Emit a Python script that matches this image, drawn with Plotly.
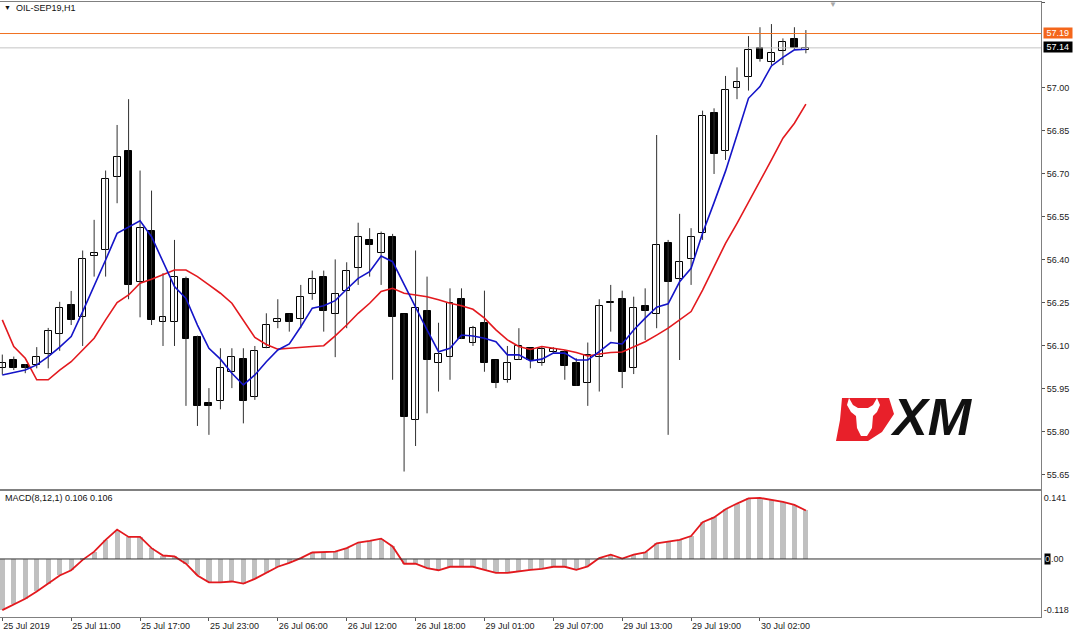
import plotly.graph_objects as go

W, H = 1080, 631

# ---------------- data ----------------
bars = list(range(71))
opens = [56.022, 56.051, 56.033, 56.033, 56.071, 56.141, 56.243, 56.200, 56.414, 56.435,
         56.691, 56.781, 56.322, 56.501, 56.183, 56.183, 56.333, 56.133, 55.902, 55.909,
         56.010, 56.054, 55.921, 56.092, 56.183, 56.212, 56.194, 56.281, 56.342, 56.212,
         56.293, 56.371, 56.470, 56.423, 56.479, 56.212, 55.842, 56.222, 56.042, 56.063,
         56.263, 56.112, 56.181, 56.051, 55.982, 56.051, 56.092, 56.040, 56.080, 56.080,
         56.042, 55.972, 56.063, 56.249, 56.263, 56.022, 56.241, 56.212, 56.460, 56.333,
         56.402, 56.493, 56.912, 56.780, 57.001, 57.039, 57.141, 57.090, 57.130, 57.171,
         57.133]
highs = [56.070, 56.063, 56.037, 56.096, 56.163, 56.254, 56.292, 56.433, 56.540, 56.712,
         56.871, 56.961, 56.712, 56.642, 56.354, 56.470, 56.342, 56.136, 55.953, 56.092,
         56.092, 56.092, 56.100, 56.214, 56.263, 56.212, 56.313, 56.363, 56.363, 56.402,
         56.392, 56.530, 56.511, 56.499, 56.491, 56.212, 56.433, 56.342, 56.181, 56.301,
         56.301, 56.170, 56.293, 56.051, 56.100, 56.162, 56.092, 56.098, 56.096, 56.086,
         56.057, 56.112, 56.263, 56.313, 56.293, 56.272, 56.301, 56.836, 56.470, 56.561,
         56.511, 56.921, 56.929, 57.042, 57.072, 57.181, 57.212, 57.223, 57.173, 57.212,
         57.202]
lows = [56.000, 56.016, 56.005, 56.022, 56.022, 56.083, 56.173, 56.100, 56.342, 56.342,
        56.598, 56.263, 56.200, 56.173, 56.100, 56.100, 55.891, 55.821, 55.790, 55.879,
        55.953, 55.830, 55.912, 56.092, 56.162, 56.150, 56.162, 56.261, 56.150, 56.061,
        56.162, 56.313, 56.342, 56.313, 55.982, 55.662, 55.751, 55.865, 55.941, 55.982,
        56.124, 56.100, 56.010, 55.953, 55.972, 56.051, 56.022, 56.031, 56.075, 55.982,
        55.961, 55.891, 55.941, 56.150, 55.953, 56.002, 56.121, 56.162, 55.790, 56.051,
        56.313, 56.470, 56.700, 56.749, 56.961, 56.991, 57.092, 57.080, 57.080, 57.135,
        57.121]
closes = [56.042, 56.022, 56.022, 56.063, 56.153, 56.232, 56.191, 56.402, 56.423, 56.682,
          56.760, 56.313, 56.511, 56.191, 56.202, 56.342, 56.124, 55.891, 55.891, 56.022,
          56.063, 55.909, 56.083, 56.173, 56.193, 56.183, 56.272, 56.333, 56.223, 56.281,
          56.363, 56.479, 56.452, 56.491, 56.202, 55.851, 56.232, 56.051, 56.072, 56.251,
          56.124, 56.162, 56.042, 55.972, 56.042, 56.100, 56.051, 56.090, 56.090, 56.031,
          55.961, 56.069, 56.241, 56.255, 56.010, 56.232, 56.222, 56.452, 56.322, 56.392,
          56.479, 56.902, 56.770, 56.993, 57.022, 57.133, 57.100, 57.121, 57.161, 57.141,
          57.141]
ma_fast = [55.999, 56.007, 56.016, 56.034, 56.063, 56.096, 56.133, 56.220, 56.307, 56.400,
           56.493, 56.516, 56.537, 56.481, 56.394, 56.307, 56.266, 56.173, 56.092, 56.054,
           56.005, 55.964, 55.999, 56.045, 56.086, 56.107, 56.167, 56.232, 56.240, 56.258,
           56.298, 56.336, 56.359, 56.414, 56.394, 56.313, 56.235, 56.156, 56.080, 56.092,
           56.138, 56.135, 56.127, 56.115, 56.069, 56.069, 56.048, 56.054, 56.075, 56.075,
           56.051, 56.051, 56.080, 56.112, 56.107, 56.156, 56.197, 56.235, 56.247, 56.324,
           56.371, 56.493, 56.600, 56.710, 56.836, 56.964, 57.005, 57.077, 57.107, 57.133,
           57.135]
ma_slow = [56.191, 56.098, 56.057, 55.982, 55.982, 56.016, 56.045, 56.086, 56.127, 56.191,
           56.251, 56.278, 56.319, 56.333, 56.348, 56.365, 56.365, 56.342, 56.313, 56.284,
           56.249, 56.191, 56.130, 56.105, 56.089, 56.092, 56.094, 56.098, 56.101, 56.135,
           56.173, 56.214, 56.249, 56.290, 56.301, 56.284, 56.278, 56.272, 56.261, 56.249,
           56.240, 56.228, 56.197, 56.156, 56.121, 56.098, 56.088, 56.098, 56.092, 56.086,
           56.077, 56.065, 56.072, 56.077, 56.079, 56.098, 56.115, 56.138, 56.162, 56.191,
           56.220, 56.295, 56.377, 56.458, 56.528, 56.600, 56.673, 56.749, 56.825, 56.877,
           56.944]
macd = [-0.118, -0.105, -0.092, -0.075, -0.057, -0.038, -0.026, -0.002, 0.017, 0.044,
        0.068, 0.051, 0.051, 0.025, 0.008, 0.006, -0.011, -0.038, -0.054, -0.054,
        -0.052, -0.057, -0.046, -0.032, -0.018, -0.009, 0.002, 0.015, 0.016, 0.017,
        0.025, 0.038, 0.042, 0.047, 0.029, -0.011, -0.011, -0.021, -0.026, -0.018,
        -0.018, -0.018, -0.025, -0.032, -0.032, -0.028, -0.025, -0.023, -0.018, -0.018,
        -0.025, -0.017, 0.002, 0.010, 0.001, 0.010, 0.015, 0.036, 0.040, 0.044,
        0.053, 0.085, 0.096, 0.115, 0.128, 0.140, 0.141, 0.137, 0.132, 0.125, 0.112]

tick_bars = [0, 6, 12, 18, 24, 30, 36, 42, 48, 54, 60, 66]
tick_labels = ["25 Jul 2019", "25 Jul 11:00", "25 Jul 17:00", "25 Jul 23:00",
               "26 Jul 06:00", "26 Jul 12:00", "26 Jul 18:00", "29 Jul 01:00",
               "29 Jul 07:00", "29 Jul 13:00", "29 Jul 19:00", "30 Jul 02:00"]
price_ticks = [55.65, 55.80, 55.95, 56.10, 56.25, 56.40, 56.55, 56.70, 56.85, 57.00, 57.30]
price_tick_text = ["55.65", "55.80", "55.95", "56.10", "56.25", "56.40", "56.55",
                   "56.70", "56.85", "57.00", "57.30"]
ask_price = 57.19
bid_price = 57.14
macd_ticks = [0.141, -0.118]
macd_tick_text = ["0.141", "-0.118"]

# ---------------- helpers ----------------
def px(x):
    return x / W

def py(y):
    return 1 - y / H

FONT = "Liberation Sans"
XR = 1041 / W

fig = go.Figure()

# wicks
wx, wy = [], []
for i, lo, hi in zip(bars, lows, highs):
    wx += [i, i, None]
    wy += [lo, hi, None]
fig.add_trace(go.Scatter(x=wx, y=wy, mode="lines", line=dict(color="#303030", width=1),
                         hoverinfo="skip", showlegend=False, xaxis="x", yaxis="y"))

# bodies
MINB = 0.004
for up in (True, False):
    xs, base, hgt = [], [], []
    for i, o, c in zip(bars, opens, closes):
        if (c >= o) == up:
            xs.append(i)
            lo = min(o, c)
            h = abs(c - o)
            if h < MINB:
                lo = (o + c) / 2 - MINB / 2
                h = MINB
            base.append(lo)
            hgt.append(h)
    fig.add_trace(go.Bar(x=xs, y=hgt, base=base, width=0.6,
                         marker=dict(color="white" if up else "black",
                                     line=dict(color="black", width=1)),
                         showlegend=False, xaxis="x", yaxis="y"))

# moving averages
fig.add_trace(go.Scatter(x=bars, y=ma_slow, mode="lines", line=dict(color="#E3191E", width=1.6),
                         showlegend=False, xaxis="x", yaxis="y"))
fig.add_trace(go.Scatter(x=bars, y=ma_fast, mode="lines", line=dict(color="#1414C8", width=1.6),
                         showlegend=False, xaxis="x", yaxis="y"))

# MACD
fig.add_trace(go.Bar(x=bars, y=macd, width=0.45, marker=dict(color="#C0C0C0", line=dict(width=0)),
                     showlegend=False, xaxis="x2", yaxis="y2"))
fig.add_trace(go.Scatter(x=bars, y=macd, mode="lines", line=dict(color="#E3191E", width=1.8),
                         showlegend=False, xaxis="x2", yaxis="y2"))

xrange = [-0.2, 90.48]
axcol = "#808080"
tickfont = dict(family=FONT, size=9, color="#222")

fig.update_layout(
    width=W, height=H, margin=dict(l=0, r=0, t=0, b=0),
    paper_bgcolor="white", plot_bgcolor="white",
    barmode="overlay", bargap=0,
    showlegend=False,
    xaxis=dict(domain=[0, XR], range=xrange, showgrid=False, zeroline=False,
               showticklabels=False, ticks="", showline=True, mirror=True,
               linecolor=axcol, linewidth=1, anchor="y"),
    yaxis=dict(domain=[py(489), py(2)], range=[55.601, 57.300], side="right",
               showgrid=False, zeroline=False, tickvals=price_ticks, ticktext=price_tick_text,
               ticks="outside", ticklen=3, tickcolor="#555", tickfont=tickfont,
               showline=True, mirror=True, linecolor=axcol, linewidth=1, anchor="x"),
    xaxis2=dict(domain=[0, XR], range=xrange, matches="x", showgrid=False, zeroline=False,
                tickvals=tick_bars, ticktext=tick_labels, ticks="outside", ticklen=3,
                tickcolor="#555", tickfont=tickfont, ticklabelposition="outside right",
                showline=True, mirror=True, linecolor=axcol, linewidth=1, anchor="y2"),
    yaxis2=dict(domain=[py(617), py(491)], range=[-0.134, 0.157], side="right",
                showgrid=False, zeroline=False, tickvals=macd_ticks, ticktext=macd_tick_text,
                ticks="", tickfont=tickfont,
                showline=True, mirror=True, linecolor=axcol, linewidth=1, anchor="x2"),
)

shapes = [
    dict(type="line", xref="x domain", yref="y", x0=0, x1=1, y0=ask_price, y1=ask_price,
         line=dict(color="#F07020", width=1)),
    dict(type="line", xref="x domain", yref="y", x0=0, x1=1, y0=bid_price, y1=bid_price,
         line=dict(color="#C4C4C4", width=1)),
    dict(type="line", xref="x2 domain", yref="y2", x0=0, x1=1, y0=0, y1=0,
         line=dict(color="#303030", width=1)),
]

# XM logo (red emblem with bull head cut-out)
def path(pts):
    return "M " + " L ".join(f"{px(x):.5f},{py(y):.5f}" for x, y in pts) + " Z"

red_pts = [(842, 398), (889, 398), (894, 414), (882, 432), (868, 441), (836, 441), (840, 420)]
bull_pts = [(849, 398), (853, 405), (858, 408), (868, 408), (873, 405), (877, 398), (880, 405),
            (877, 412), (873, 416), (872, 428), (867, 436), (861, 436), (857, 428), (856, 416),
            (851, 412), (847, 405)]
shapes.append(dict(type="path", xref="paper", yref="paper", path=path(red_pts),
                   fillcolor="#E8202A", line=dict(width=0)))
shapes.append(dict(type="path", xref="paper", yref="paper", path=path(bull_pts),
                   fillcolor="white", line=dict(width=0)))
fig.update_layout(shapes=shapes)

ann = [
    dict(x=px(3), y=py(8), text="▼", font=dict(family=FONT, size=7, color="#111")),
    dict(x=px(15), y=py(8), text="OIL-SEP19,H1", font=dict(family=FONT, size=9, color="#111")),
    dict(x=px(4), y=py(498), text="MACD(8,12,1) 0.106 0.106",
         font=dict(family=FONT, size=9, color="#111")),
    dict(x=px(1043), y=py(33), text=" 57.19 ", bgcolor="#F4661B",
         font=dict(family=FONT, size=9, color="white")),
    dict(x=px(1043), y=py(47), text=" 57.14 ", bgcolor="black",
         font=dict(family=FONT, size=9, color="white")),
    dict(x=px(1043.5), y=py(559), text="0", bgcolor="black",
         font=dict(family=FONT, size=9, color="#dddddd")),
    dict(x=px(1049.5), y=py(559), text=".00", font=dict(family=FONT, size=9, color="#222")),
    dict(x=px(833), y=py(4), text="▼", xanchor="center",
         font=dict(family=FONT, size=8, color="#A8A8A8")),
    dict(x=px(931), y=py(417), text="<b><i>XM</i></b>", xanchor="center",
         font=dict(family=FONT, size=52, color="#111111")),
]
for a in ann:
    a.setdefault("xanchor", "left")
    a["xref"] = "paper"
    a["yref"] = "paper"
    a["yanchor"] = "middle"
    a["showarrow"] = False
    a["borderpad"] = 0
fig.update_layout(annotations=ann)

fig.write_html("out.html", config={"displayModeBar": False},
               post_script="document.body.style.margin='0';document.body.style.overflow='hidden';")
